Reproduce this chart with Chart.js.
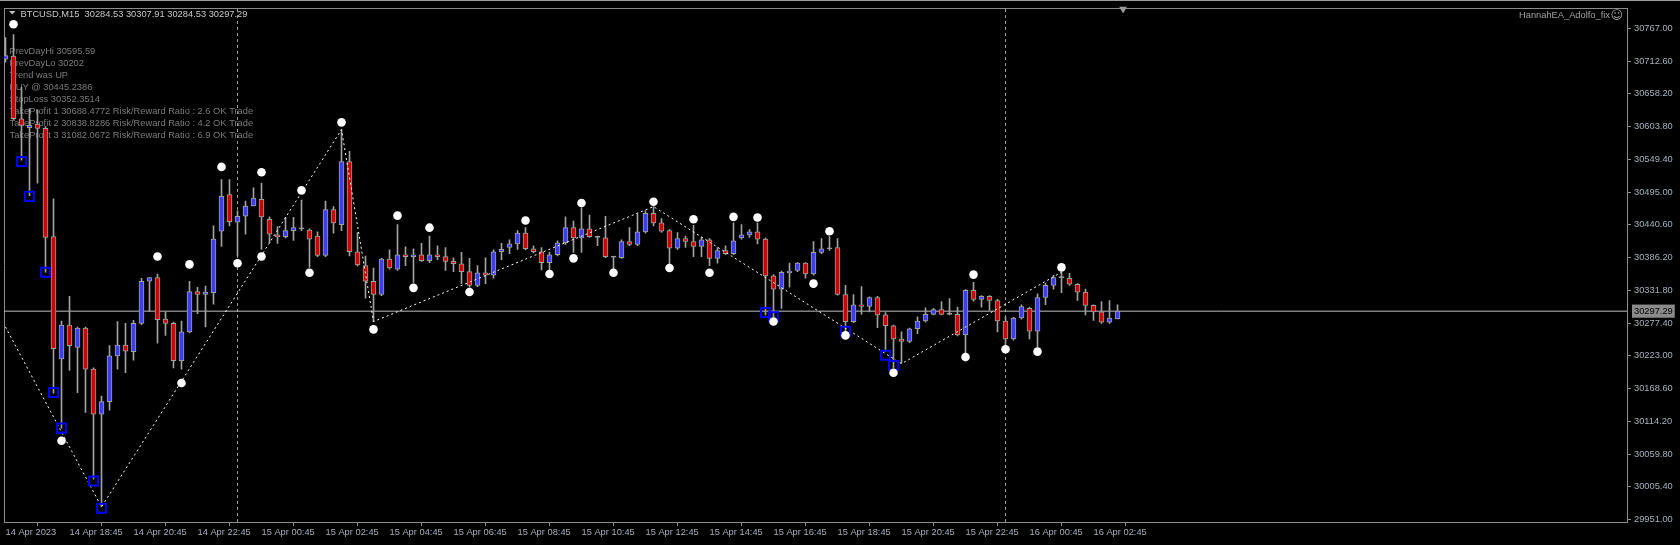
<!DOCTYPE html>
<html><head><meta charset="utf-8">
<script src="https://cdn.jsdelivr.net/npm/chart.js@4.4.0/dist/chart.umd.min.js"></script>
<style>html,body{margin:0;padding:0;background:#000;overflow:hidden}#wrap{width:1680px;height:545px;position:relative}</style>
</head><body><div id="wrap"><canvas id="c" width="1680" height="545"></canvas></div>
<script>
// ---- data (M15 bars, index 0 = 14 Apr 16:45) ----
const opens  = [30716,30721,30617,30602,30608,30601,30421,30218,30274,30237,30269,30201,30126,30147,30223,30241,30230,30277,30347,30353,
30284,30277,30215,30263,30330,30325,30328,30430,30491,30445,30455,30472,30483,30450,30424,30421,30431,30434,30432,30422,
30390,30466,30441,30546,30396,30373,30347,30325,30384,30367,30391,30388,30391,30381,30391,30388,30380,30376,30363,30340,
30361,30357,30396,30403,30409,30427,30401,30396,30378,30391,30411,30436,30419,30434,30420,30419,30387,30386,30413,30408,
30429,30460,30444,30431,30402,30418,30413,30405,30416,30385,30398,30393,30419,30424,30429,30417,30356,30334,30361,30365,
30377,30359,30395,30401,30403,30325,30280,30308,30305,30320,30291,30273,30251,30247,30268,30281,30292,30300,30292,30292,
30258,30332,30317,30322,30315,30281,30251,30286,30302,30264,30320,30340,30353,30352,30342,30329,30307,30296,30279,30284.53];
const highs  = [30752,30757,30669,30634,30631,30604,30484,30281,30322,30271,30271,30203,30156,30240,30280,30277,30282,30352,30353,30359,
30296,30279,30281,30347,30337,30339,30439,30516,30516,30464,30480,30502,30510,30454,30438,30453,30453,30482,30434,30429,
30480,30471,30599,30563,30428,30389,30369,30385,30399,30441,30404,30401,30410,30422,30406,30403,30386,30395,30385,30373,
30386,30399,30410,30416,30431,30436,30406,30403,30395,30414,30454,30447,30469,30457,30422,30455,30388,30416,30436,30459,
30464,30471,30451,30433,30428,30422,30440,30420,30418,30403,30406,30444,30441,30433,30444,30419,30358,30364,30377,30378,
30378,30413,30418,30421,30418,30340,30325,30338,30321,30322,30295,30274,30263,30269,30288,30303,30302,30313,30318,30304,
30333,30345,30323,30323,30317,30288,30287,30308,30304,30326,30344,30357,30362,30360,30343,30334,30308,30313,30315,30307.91];
const lows   = [30711,30615,30548,30489,30510,30362,30161,30103,30199,30162,30129,30018,29972,30133,30201,30195,30216,30275,30297,30244,
30257,30203,30201,30261,30293,30271,30309,30405,30439,30389,30425,30472,30400,30411,30410,30419,30415,30431,30370,30388,
30388,30427,30431,30389,30372,30319,30280,30323,30367,30365,30373,30345,30380,30378,30383,30365,30363,30343,30337,30338,
30343,30352,30383,30393,30400,30399,30394,30366,30365,30389,30408,30395,30395,30420,30406,30386,30367,30385,30406,30406,
30427,30439,30428,30373,30400,30403,30388,30388,30373,30377,30391,30391,30417,30420,30409,30291,30288,30302,30337,30363,
30352,30357,30393,30398,30324,30263,30278,30292,30296,30270,30230,30203,30211,30245,30260,30279,30291,30291,30291,30256,
30227,30314,30304,30299,30263,30241,30249,30284,30251,30238,30308,30334,30328,30340,30315,30291,30282,30277,30277,30284.53];
const closes = [30722,30617,30606,30606,30601,30420,30235,30274,30240,30269,30201,30126,30147,30223,30241,30231,30277,30347,30353,30283,
30277,30215,30263,30330,30325,30329,30417,30488,30446,30455,30472,30485,30454,30425,30421,30431,30436,30434,30417,30390,
30466,30444,30546,30396,30374,30347,30325,30384,30369,30391,30388,30391,30381,30391,30388,30380,30376,30363,30340,30361,
30357,30396,30400,30409,30427,30401,30396,30378,30391,30411,30436,30419,30434,30421,30420,30388,30387,30413,30408,30429,
30460,30444,30430,30402,30418,30413,30405,30416,30385,30398,30393,30414,30424,30429,30417,30356,30334,30362,30364,30377,
30359,30395,30401,30401,30325,30280,30308,30305,30320,30291,30273,30251,30247,30268,30281,30292,30300,30292,30292,30258,
30332,30317,30322,30315,30281,30251,30286,30305,30264,30320,30340,30353,30353,30342,30329,30307,30296,30279,30286,30297.29];

const timeLabels = ['14 Apr 2023','14 Apr 18:45','14 Apr 20:45','14 Apr 22:45','15 Apr 00:45','15 Apr 02:45','15 Apr 04:45',
'15 Apr 06:45','15 Apr 08:45','15 Apr 10:45','15 Apr 12:45','15 Apr 14:45','15 Apr 16:45','15 Apr 18:45','15 Apr 20:45',
'15 Apr 22:45','16 Apr 00:45','16 Apr 02:45'];
const barsPerLabel = 8;
const priceTicks = [29951.00,30005.40,30059.80,30114.20,30168.60,30223.00,30277.40,30331.80,30386.20,30440.60,30495.00,
30549.40,30603.80,30658.20,30712.60,30767.00];
const bidPrice = 30297.29;

// fractal dots [bar, price]
const fractalBars   = [1,7,19,22,23,27,29,32,32,37,38,42,46,49,51,53,58,65,68,71,72,76,81,83,86,88,91,94,96,101,103,105,111,120,121,125,129,132];
const fractalPrices = [30774,30082,30388,30178,30375,30537,30377,30528,30388,30498,30361,30611,30267,30456,30336,30436,30329,30448,30359,30385,
30477,30361,30479,30369,30450,30361,30454,30453,30280,30343,30430,30257,30195,30221,30358,30234,30230,30370];
// blue signal squares
const squareBars   = [2,3,5,6,7,11,12,95,96,105,110,111];
const squarePrices = [30546,30488,30362,30162,30103,30015,29970,30295,30288,30264,30224,30207];
// zigzag
const zigzagBars   = [0,12,42,46,81,112,132];
const zigzagPrices = [30271,29972,30599,30280,30471,30210,30362];
// day separators (bar index of 00:00)
const separatorBars = [29,125];

const headerText = 'BTCUSD,M15  30284.53 30307.91 30284.53 30297.29';
const eaName = 'HannahEA_Adolfo_fix';
const infoLines = ['PrevDayHi 30595.59','PrevDayLo 30202','Trend was UP','BUY @ 30445.2386','StopLoss 30352.3514',
'TakeProfit 1 30688.4772 Risk/Reward Ratio : 2.6 OK Trade',
'TakeProfit 2 30838.8286 Risk/Reward Ratio : 4.2 OK Trade',
'TakeProfit 3 31082.0672 Risk/Reward Ratio : 6.9 OK Trade'];

// ---- styling ----
const X_MIN = -0.1875, X_MAX = 202.6875, Y_MIN = 29947, Y_MAX = 30800;
const FONT = 'Liberation Sans';
const FSIZE = 9.3;
const AXIS_TXT = '#a8b0bc';
const FRAME = '#8c8c8c';
const WICK = '#a0a0a0';
const BULL = '#3c3cff', BEAR = '#d20000';

const idx = opens.map((_, i) => i);
const wickData = idx.map(i => ({x: i, y: [lows[i], highs[i]]}));
const bodyData = idx.map(i => ({x: i, y: [opens[i], closes[i]]}));
const bodyColors = idx.map(i => closes[i] > opens[i] ? BULL : (closes[i] < opens[i] ? BEAR : WICK));

const textPlugin = {
  id: 'mtText',
  beforeDatasetsDraw(chart) {
    const ctx = chart.ctx;
    ctx.save();
    ctx.fillStyle = '#c0c0c0';
    ctx.beginPath(); ctx.moveTo(9, 11); ctx.lineTo(15.5, 11); ctx.lineTo(12.25, 14.5); ctx.closePath(); ctx.fill();
    ctx.font = FSIZE + 'px "' + FONT + '"';
    ctx.textBaseline = 'alphabetic';
    ctx.textAlign = 'left';
    ctx.fillStyle = '#c8c8c8';
    ctx.fillText(headerText, 20.5, 16.5);
    ctx.fillStyle = '#7c7c7c';
    infoLines.forEach((t, k) => ctx.fillText(t, 9.5, 54 + k * 12));
    ctx.fillStyle = '#a0a0a0';
    ctx.textAlign = 'right';
    ctx.fillText(eaName, 1610, 17.5);
    ctx.font = '12px "DejaVu Sans"';
    ctx.textAlign = 'left';
    ctx.fillText('\u263A', 1610.5, 18.5);
    ctx.restore();
  },
  beforeDraw(chart) {
    const ctx = chart.ctx;
    ctx.save();
    ctx.fillStyle = '#000';
    ctx.fillRect(0, 0, chart.width, chart.height);
    ctx.restore();
  },
  afterDraw(chart) {
    const ctx = chart.ctx;
    ctx.save();
    ctx.fillStyle = '#9a9a9a';
    ctx.fillRect(0, 0, chart.width, 1);
    ctx.restore();
  }
};

const sepDatasets = separatorBars.map(b => ({
  type: 'line', data: [{x: b, y: Y_MIN}, {x: b, y: Y_MAX}],
  borderColor: '#9a9a9a', borderWidth: 1, borderDash: [3, 3], pointRadius: 0, order: 20
}));

new Chart(document.getElementById('c'), {
  type: 'bar',
  data: {
    datasets: [
      ...sepDatasets,
      { type: 'line', data: [{x: X_MIN, y: bidPrice}, {x: X_MAX, y: bidPrice}], borderColor: '#c0c0c0', borderWidth: 1,
        pointRadius: 0, order: 15 },
      { type: 'bar', data: wickData, backgroundColor: WICK, barThickness: 1, grouped: false, order: 12 },
      { type: 'bar', data: bodyData, backgroundColor: bodyColors, borderColor: WICK, borderWidth: 1, borderSkipped: false,
        barThickness: 5, minBarLength: 1, grouped: false, order: 11 },
      { type: 'line', data: zigzagBars.map((b, k) => ({x: b, y: zigzagPrices[k]})), borderColor: '#ffffff', borderWidth: 1,
        borderDash: [2, 3], pointRadius: 0, tension: 0, order: 5 },
      { type: 'scatter', data: squareBars.map((b, k) => ({x: b, y: squarePrices[k]})), pointStyle: 'rect', pointRadius: 6.4,
        borderColor: '#0000ff', borderWidth: 2, backgroundColor: 'rgba(0,0,0,0)', order: 4 },
      { type: 'scatter', data: fractalBars.map((b, k) => ({x: b, y: fractalPrices[k]})), pointStyle: 'circle', pointRadius: 4.3,
        borderWidth: 0, backgroundColor: '#ffffff', order: 3 },
      { type: 'scatter', data: [{x: 139.7, y: 30799.5}], pointStyle: 'triangle', rotation: 180, pointRadius: 4.5,
        backgroundColor: '#9a9a9a', borderWidth: 0, order: 2, clip: false }
    ]
  },
  options: {
    responsive: false, animation: false, devicePixelRatio: 1,
    layout: { padding: 0, autoPadding: false },
    plugins: { legend: { display: false }, tooltip: { enabled: false } },
    scales: {
      x: {
        type: 'linear', position: 'bottom', min: X_MIN, max: X_MAX, offset: false,
        afterBuildTicks: s => { s.ticks = timeLabels.map((t, k) => ({value: k * barsPerLabel})); },
        afterFit: s => { s.height = 23; },
        grid: { drawOnChartArea: false, drawTicks: true, tickLength: 4, color: FRAME },
        border: { display: true, color: FRAME },
        ticks: { autoSkip: false, maxRotation: 0, minRotation: 0, align: 'start', padding: 1, color: AXIS_TXT,
          font: { family: FONT, size: FSIZE }, callback: (v, i) => timeLabels[i] }
      },
      xTop: {
        type: 'linear', position: 'top', min: X_MIN, max: X_MAX,
        afterFit: s => { s.height = 4; },
        grid: { drawOnChartArea: false, drawTicks: false }, border: { display: true, color: FRAME },
        ticks: { display: false }
      },
      y: {
        type: 'linear', position: 'right', min: Y_MIN, max: Y_MAX,
        afterBuildTicks: s => { s.ticks = priceTicks.concat([bidPrice]).sort((a, b) => a - b).map(v => ({value: v})); },
        afterFit: s => { s.width = 53; },
        grid: { drawOnChartArea: false, drawTicks: true, tickLength: 4,
          tickColor: c => (c.tick && c.tick.value === bidPrice) ? 'rgba(0,0,0,0)' : FRAME, color: FRAME },
        border: { display: true, color: FRAME },
        ticks: { autoSkip: false, padding: 3, font: { family: FONT, size: FSIZE },
          color: c => (c.tick && c.tick.value === bidPrice) ? '#000000' : AXIS_TXT,
          showLabelBackdrop: c => !!(c.tick && c.tick.value === bidPrice),
          backdropColor: '#8a8a8a', backdropPadding: {top: 1, bottom: 1, left: 2, right: 2},
          callback: v => Number(v).toFixed(2) }
      },
      yLeft: {
        type: 'linear', position: 'left', min: Y_MIN, max: Y_MAX,
        afterFit: s => { s.width = 4; },
        grid: { drawOnChartArea: false, drawTicks: false }, border: { display: true, color: FRAME },
        ticks: { display: false }
      }
    }
  },
  plugins: [textPlugin]
});
</script></body></html>
